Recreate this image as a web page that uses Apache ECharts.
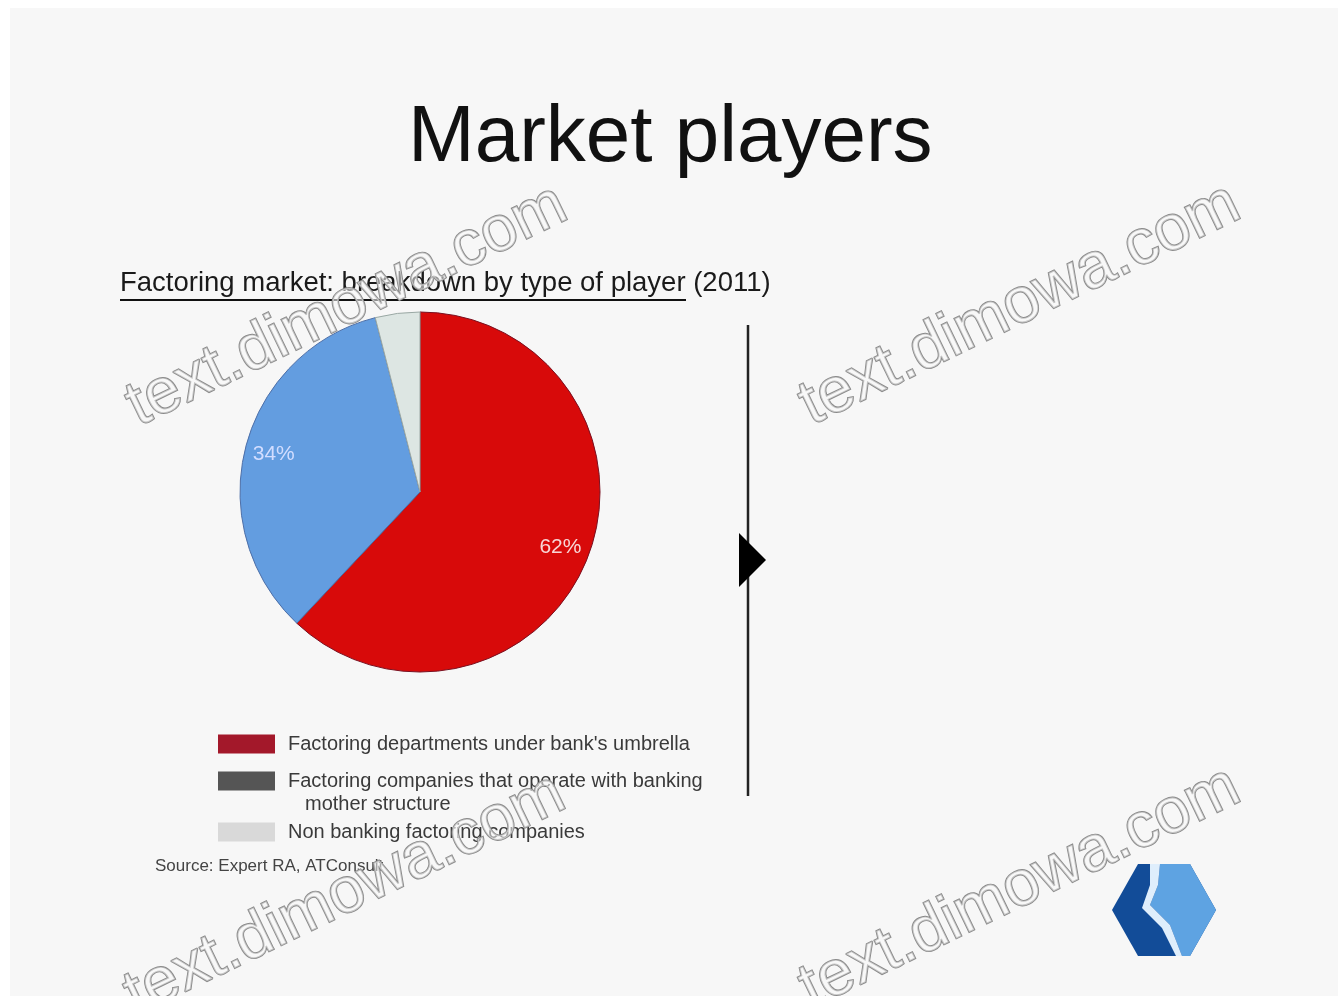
<!DOCTYPE html>
<html><head><meta charset="utf-8">
<script src="https://cdn.jsdelivr.net/npm/echarts@6/dist/echarts.min.js"></script>
<style>html,body{margin:0;padding:0;background:#fff}#c{width:1338px;height:996px}</style>
</head><body><div id="c"></div>
<script>
const titleText = 'Market players';
const subtitleText = 'Factoring market: breakdown by type of player (2011)';
const categories = ["Factoring departments under bank's umbrella", 'Factoring companies that operate with banking mother structure', 'Non banking factoring companies'];
const legendLabels = ["Factoring departments under bank's umbrella", 'Factoring companies that operate with banking', 'Non banking factoring companies'];
const legendContinuation = 'mother structure';
const shares = [62, 34, 4];
const showLabel = [true, true, false];
const sliceColors = ['#d80a0a', '#639de0', '#dde6e3'];
const sliceBorders = ['#7a1020', '#4d6fa8', '#9aa8a4'];
const legendColors = ['#a3182a', '#555555', '#d9d9d9'];
const labelColors = ['#f8d6d6', '#d2ddff', '#666666'];
const sourceText = 'Source: Expert RA, ATConsult';
const watermarkText = 'text.dimowa.com';

const FONT = 'Liberation Sans, Arial, sans-serif';
const chart = echarts.init(document.getElementById('c'), null, {renderer: 'canvas'});

const baseData = categories.map((n, i) => ({
  name: n, value: shares[i],
  itemStyle: {color: sliceColors[i], borderColor: sliceBorders[i], borderWidth: 1}
}));
const labelData = categories.map((n, i) => ({
  name: n, value: shares[i],
  label: {show: showLabel[i], color: labelColors[i]}
}));

const legendTops = [734, 771, 822];
const legends = categories.map((n, i) => ({
  orient: 'vertical', left: 218, top: legendTops[i], padding: 0,
  icon: 'rect', itemWidth: 57, itemHeight: 19,
  selectedMode: false,
  data: [{name: n, itemStyle: {color: legendColors[i], borderWidth: 0}}],
  formatter: () => legendLabels[i],
  textStyle: {fontSize: 20, color: '#3a3a3a', fontFamily: FONT, padding: [0, 0, 0, 8]}
}));

const wmPos = [[347, 306], [1020, 305], [345, 895], [1020, 888]];
const watermarks = wmPos.map(p => ({
  type: 'text', x: p[0], y: p[1], rotation: 0.45, z: 100,
  style: {
    text: watermarkText, textAlign: 'center', textVerticalAlign: 'middle',
    font: '64px "Liberation Sans", Arial, sans-serif',
    fill: 'rgba(250,250,250,0.55)', stroke: '#8a8a8a', lineWidth: 1.8
  }
}));

chart.setOption({
  backgroundColor: '#f7f7f7',
  animation: false,
  title: [
    {text: titleText, left: 408, top: 99, padding: 0,
     textStyle: {fontSize: 80, fontWeight: 'normal', color: '#111', fontFamily: FONT}},
    {text: subtitleText, left: 120, top: 269, padding: 0,
     textStyle: {fontSize: 27.5, fontWeight: 'normal', color: '#1a1a1a', fontFamily: FONT}},
    {text: sourceText, left: 155, top: 858, padding: 0,
     textStyle: {fontSize: 17, fontWeight: 'normal', color: '#444', fontFamily: FONT}}
  ],
  legend: legends,
  series: [
    {
      type: 'pie', center: [420, 492], radius: 180, startAngle: 90, clockwise: true,
      silent: true, label: {show: false}, labelLine: {show: false},
      data: baseData
    },
    {
      type: 'pie', center: [420, 492], radius: [116, 180], startAngle: 90, clockwise: true,
      silent: true, z: 3,
      itemStyle: {color: 'rgba(0,0,0,0)'},
      label: {position: 'inside', formatter: '{c}%', fontSize: 21, fontFamily: FONT},
      labelLine: {show: false},
      data: labelData
    }
  ],
  graphic: [
    {type: 'rect', shape: {x: 0, y: 0, width: 1338, height: 8}, style: {fill: '#ffffff'}, z: 50},
    {type: 'rect', shape: {x: 0, y: 0, width: 10, height: 996}, style: {fill: '#ffffff'}, z: 50},
    {type: 'text', x: 305, y: 804, style: {text: legendContinuation, font: '20px "Liberation Sans", Arial, sans-serif', fill: '#3a3a3a', textVerticalAlign: 'middle'}},
    {type: 'line', shape: {x1: 120, y1: 300, x2: 686, y2: 300}, style: {stroke: '#111', lineWidth: 2}},
    {type: 'line', shape: {x1: 748, y1: 325, x2: 748, y2: 796}, style: {stroke: '#222', lineWidth: 2.5}},
    {type: 'polygon', shape: {points: [[739, 533], [766, 560], [739, 587]]}, style: {fill: '#000'}},
    {type: 'polygon', shape: {points: [[1112, 910], [1138, 864], [1190, 864], [1216, 910], [1190, 956], [1138, 956]]}, style: {fill: '#124c98'}},
    {type: 'polygon', shape: {points: [[1160, 864], [1190, 864], [1216, 910], [1190, 956], [1182, 956], [1170, 925], [1150, 905], [1158, 885]]}, style: {fill: '#5ea3e2'}},
    {type: 'polygon', shape: {points: [[1150, 864], [1160, 864], [1158, 885], [1150, 905], [1170, 925], [1182, 956], [1176, 956], [1162, 928], [1142, 908], [1150, 885]]}, style: {fill: '#dfeefc'}},
    ...watermarks
  ]
});
</script>
</body></html>
